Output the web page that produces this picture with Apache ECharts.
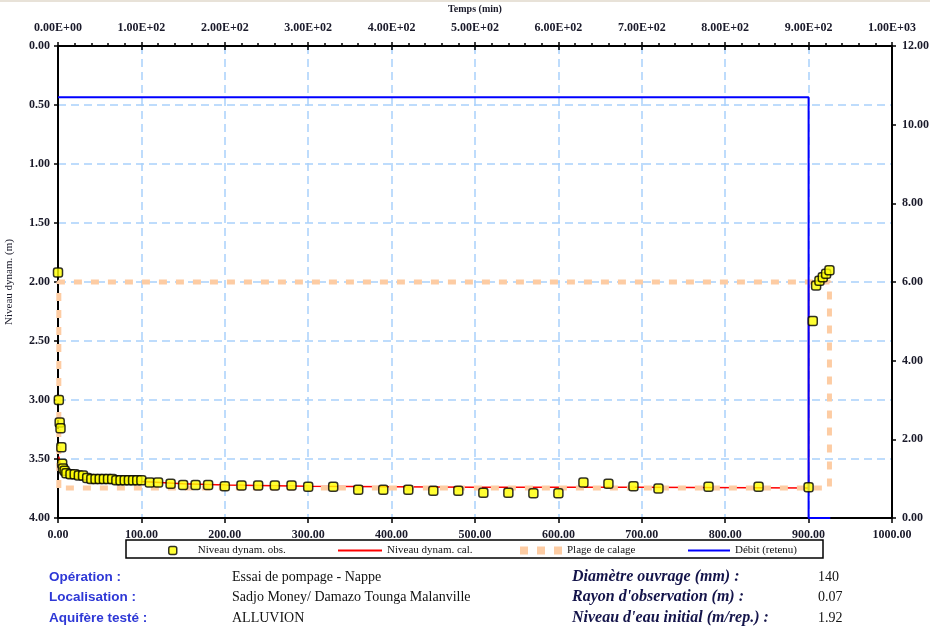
<!DOCTYPE html>
<html>
<head>
<meta charset="utf-8">
<title>Essai de pompage - Nappe</title>
<script src="https://cdn.jsdelivr.net/npm/echarts@6/dist/echarts.min.js"></script>
<style>
  html, body { margin: 0; padding: 0; background: #fff; }
  #chart { width: 930px; height: 629px; }
</style>
</head>
<body>
<div id="chart"></div>
<script>
"use strict";

// temps (min) / niveau dynamique observé (m)
var obsTime = [0, 1, 2, 3, 4, 5, 6, 8, 10, 15, 20, 25, 30, 35, 40, 45, 50, 55, 60, 65,
  70, 75, 80, 85, 90, 95, 100, 110, 120, 135, 150, 165, 180, 200, 220, 240, 260, 280,
  300, 330, 360, 390, 420, 450, 480, 510, 540, 570, 600, 630, 660, 690, 720, 780, 840,
  900, 905, 909, 913, 917, 921, 925];
var obsLevel = [1.92, 3.00, 3.19, 3.24, 3.40, 3.54, 3.58, 3.60, 3.62, 3.63, 3.63, 3.64, 3.64, 3.66, 3.67, 3.67, 3.67, 3.67, 3.67, 3.67,
  3.68, 3.68, 3.68, 3.68, 3.68, 3.68, 3.68, 3.70, 3.70, 3.71, 3.72, 3.72, 3.72, 3.73, 3.725, 3.725, 3.725, 3.725,
  3.735, 3.735, 3.76, 3.76, 3.76, 3.77, 3.77, 3.785, 3.785, 3.79, 3.79, 3.70, 3.71, 3.73, 3.75, 3.735, 3.735,
  3.74, 2.33, 2.03, 1.99, 1.96, 1.93, 1.90];

// niveau dynamique calculé
var calTime = [1, 3, 6, 10, 20, 40, 70, 100, 150, 200, 300, 500, 700, 900, 900, 925];
var calLevel = [3.48, 3.56, 3.61, 3.63, 3.65, 3.67, 3.68, 3.69, 3.71, 3.72, 3.73, 3.74, 3.74, 3.745, 2.00, 2.00];

// plage de calage
var plageTime = [1, 1, 925, 925, 1];
var plageLevel = [3.745, 2.00, 2.00, 3.745, 3.745];

// débit retenu (axe de droite)
var debitTime = [0, 900, 900, 926];
var debitValue = [10.7, 10.7, 0, 0];

var infoLabels = ["Opération :", "Localisation :", "Aquifère testé :"];
var infoValues = ["Essai de pompage - Nappe", "Sadjo Money/ Damazo Tounga Malanville", "ALLUVION"];
var paramLabels = ["Diamètre ouvrage (mm) :", "Rayon d'observation (m) :", "Niveau d'eau initial (m/rep.) :"];
var paramValues = ["140", "0.07", "1.92"];

function zip(xs, ys) {
  return xs.map(function (x, i) { return [x, ys[i]]; });
}

function expLabel(v) {
  var s = Number(v).toExponential(2).toUpperCase();
  return s.replace(/E([+-])(\d)$/, "E$10$2");
}

var serif = "Liberation Serif";
var axisText = { fontFamily: serif, fontSize: 12, fontWeight: "bold", color: "#1a1a2a" };
var black = { color: "#000", width: 2 };
var gridDash = { color: "#a9d1fb", width: 1.5, type: [8, 5] };
var tickStyle = { color: "#000", width: 1.5 };

var chart = echarts.init(document.getElementById("chart"));

var graphics = [
  { type: "line", shape: { x1: 0, y1: 1, x2: 930, y2: 1 }, style: { stroke: "#e8e2d8", lineWidth: 2 } },
  { type: "rect", shape: { x: 126, y: 540, width: 697, height: 18 }, style: { fill: null, stroke: "#000", lineWidth: 1.5 }, z: 10 }
];
var rowsY = [577, 597, 618];
rowsY.forEach(function (y, i) {
  graphics.push({ type: "text", x: 49, y: y, style: { text: infoLabels[i], fill: "#2e38d6", font: "bold 13.5px 'Liberation Sans'", verticalAlign: "middle" } });
  graphics.push({ type: "text", x: 232, y: y, style: { text: infoValues[i], fill: "#111", font: "14px 'Liberation Serif'", verticalAlign: "middle" } });
  graphics.push({ type: "text", x: 572, y: y, style: { text: paramLabels[i], fill: "#14144a", font: "italic bold 16px 'Liberation Serif'", verticalAlign: "middle" } });
  graphics.push({ type: "text", x: 818, y: y, style: { text: paramValues[i], fill: "#111", font: "14px 'Liberation Serif'", verticalAlign: "middle" } });
});

var legendText = { fontFamily: serif, fontSize: 11, color: "#111" };

var option = {
  animation: false,
  backgroundColor: "#fff",
  grid: { left: 58, right: 38, top: 46, bottom: 111, containLabel: false, outerBoundsMode: "none" },
  legend: [
    {
      data: [{ name: "Niveau dynam. obs.", icon: "roundRect" }], left: 168, top: 545, padding: 0,
      itemWidth: 8, itemHeight: 8, textStyle: Object.assign({ padding: [0, 0, 0, 16] }, legendText),
      itemStyle: { color: "#ffff00", borderColor: "#000", borderWidth: 1.5 }
    },
    {
      data: [{ name: "Niveau dynam. cal.", icon: "rect" }], left: 338, top: 545, padding: 0,
      itemWidth: 44, itemHeight: 2, textStyle: legendText
    },
    {
      data: [{ name: "Plage de calage", icon: "path://M0,0h8v8h-8z M17,0h8v8h-8z M34,0h8v8h-8z" }], left: 520, top: 545, padding: 0,
      itemWidth: 42, itemHeight: 8, textStyle: legendText
    },
    {
      data: [{ name: "Débit (retenu)", icon: "rect" }], left: 688, top: 545, padding: 0,
      itemWidth: 42, itemHeight: 2, textStyle: legendText
    }
  ],
  xAxis: [
    {
      type: "value", position: "bottom", min: 0, max: 1000, interval: 100,
      axisLine: { onZero: false, lineStyle: black },
      axisTick: { length: 5, lineStyle: tickStyle },
      axisLabel: Object.assign({ margin: 11, formatter: function (v) { return v.toFixed(2); } }, axisText),
      splitLine: { show: true, lineStyle: gridDash }
    },
    {
      type: "value", position: "top", min: 0, max: 1000, interval: 100,
      name: "Temps (min)", nameLocation: "middle", nameGap: 32,
      nameTextStyle: { fontFamily: serif, fontSize: 10, fontWeight: "bold", color: "#1a1a2a" },
      axisLine: { onZero: false, lineStyle: black },
      axisTick: { length: 4, lineStyle: tickStyle },
      minorTick: { show: true, splitNumber: 5, length: 3, lineStyle: tickStyle },
      axisLabel: Object.assign({ margin: 12, formatter: expLabel }, axisText),
      splitLine: { show: false }
    },
    {
      type: "value", position: "top", min: 0, max: 1000, interval: 100,
      axisLine: { show: false, onZero: false },
      axisTick: { inside: true, length: 4, lineStyle: tickStyle },
      axisLabel: { show: false }, splitLine: { show: false }
    }
  ],
  yAxis: [
    {
      type: "value", position: "left", inverse: true, min: 0, max: 4, interval: 0.5,
      name: "Niveau dynam. (m)", nameLocation: "middle", nameGap: 43,
      nameTextStyle: { fontFamily: serif, fontSize: 11, color: "#1a1a2a" },
      axisLine: { onZero: false, lineStyle: black },
      axisTick: { length: 4, lineStyle: tickStyle },
      axisLabel: Object.assign({ margin: 8, formatter: function (v) { return v.toFixed(2); } }, axisText),
      splitLine: { show: true, lineStyle: gridDash }
    },
    {
      type: "value", position: "right", min: 0, max: 12, interval: 2,
      axisLine: { onZero: false, lineStyle: black },
      axisTick: { length: 4, lineStyle: tickStyle },
      axisLabel: Object.assign({ margin: 10, formatter: function (v) { return v.toFixed(2); } }, axisText),
      splitLine: { show: false }
    }
  ],
  series: [
    {
      name: "Niveau dynam. obs.", type: "scatter", xAxisIndex: 0, yAxisIndex: 0, z: 6,
      symbol: "roundRect", symbolSize: 9,
      itemStyle: { color: "#ffff00", borderColor: "#000", borderWidth: 1.5 },
      data: zip(obsTime, obsLevel)
    },
    {
      name: "Niveau dynam. cal.", type: "line", xAxisIndex: 0, yAxisIndex: 0, z: 2,
      symbol: "none", color: "#ff0000",
      lineStyle: { color: "#ff0000", width: 1.5 },
      data: zip(calTime, calLevel)
    },
    {
      name: "Plage de calage", type: "line", xAxisIndex: 0, yAxisIndex: 0, z: 3,
      symbol: "none", color: "#fdcca3",
      lineStyle: { color: "#fdcca3", width: 5, type: [8, 9] },
      data: zip(plageTime, plageLevel)
    },
    {
      name: "Débit (retenu)", type: "line", xAxisIndex: 0, yAxisIndex: 1, z: 4,
      symbol: "none", color: "#0000ff",
      lineStyle: { color: "#0000ff", width: 2 },
      data: zip(debitTime, debitValue)
    }
  ],
  graphic: graphics
};

chart.setOption(option);
window.onresize = function () {
  chart.resize();
};
</script>
</body>
</html>
